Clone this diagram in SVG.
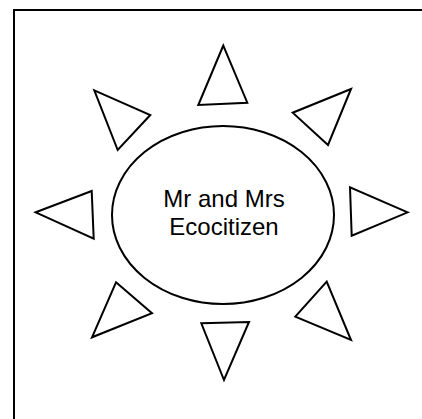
<svg xmlns="http://www.w3.org/2000/svg" width="422" height="419" viewBox="0 0 422 419">
<style>
.s{fill:#fff;stroke:#000;stroke-width:2;stroke-linejoin:miter}
.t{font-family:"Liberation Sans",Arial,sans-serif;font-size:24px;fill:#000;text-anchor:middle}
</style>
<rect width="422" height="419" fill="#fff"/>
<rect id="frame" x="14" y="10" width="430" height="430" fill="none" stroke="#000" stroke-width="2"/>
<g id="sun">
<ellipse class="s" cx="223" cy="215" rx="111" ry="89"/>
<text class="t" x="224" y="207">Mr and Mrs</text>
<text class="t" x="224" y="235">Ecocitizen</text>
</g>
<g id="ray-top"><polygon class="s" points="223.3,45.5 198.3,105 247.3,102.7"/></g>
<g id="ray-upper-left"><polygon class="s" points="94.3,90.3 150.3,115 117.7,150"/></g>
<g id="ray-upper-right"><polygon class="s" points="351,89 292.7,112.7 328,145"/></g>
<g id="ray-left"><polygon class="s" points="35.7,212.3 91.7,191 93.7,238.7"/></g>
<g id="ray-right"><polygon class="s" points="407.7,212.3 350,187.3 351.7,235.7"/></g>
<g id="ray-lower-left"><polygon class="s" points="116,282.3 152,313.3 92,337.3"/></g>
<g id="ray-lower-right"><polygon class="s" points="326.7,281.7 295.3,316.7 351,340"/></g>
<g id="ray-bottom"><polygon class="s" points="201.3,323.3 249,322 224,380"/></g>
</svg>
